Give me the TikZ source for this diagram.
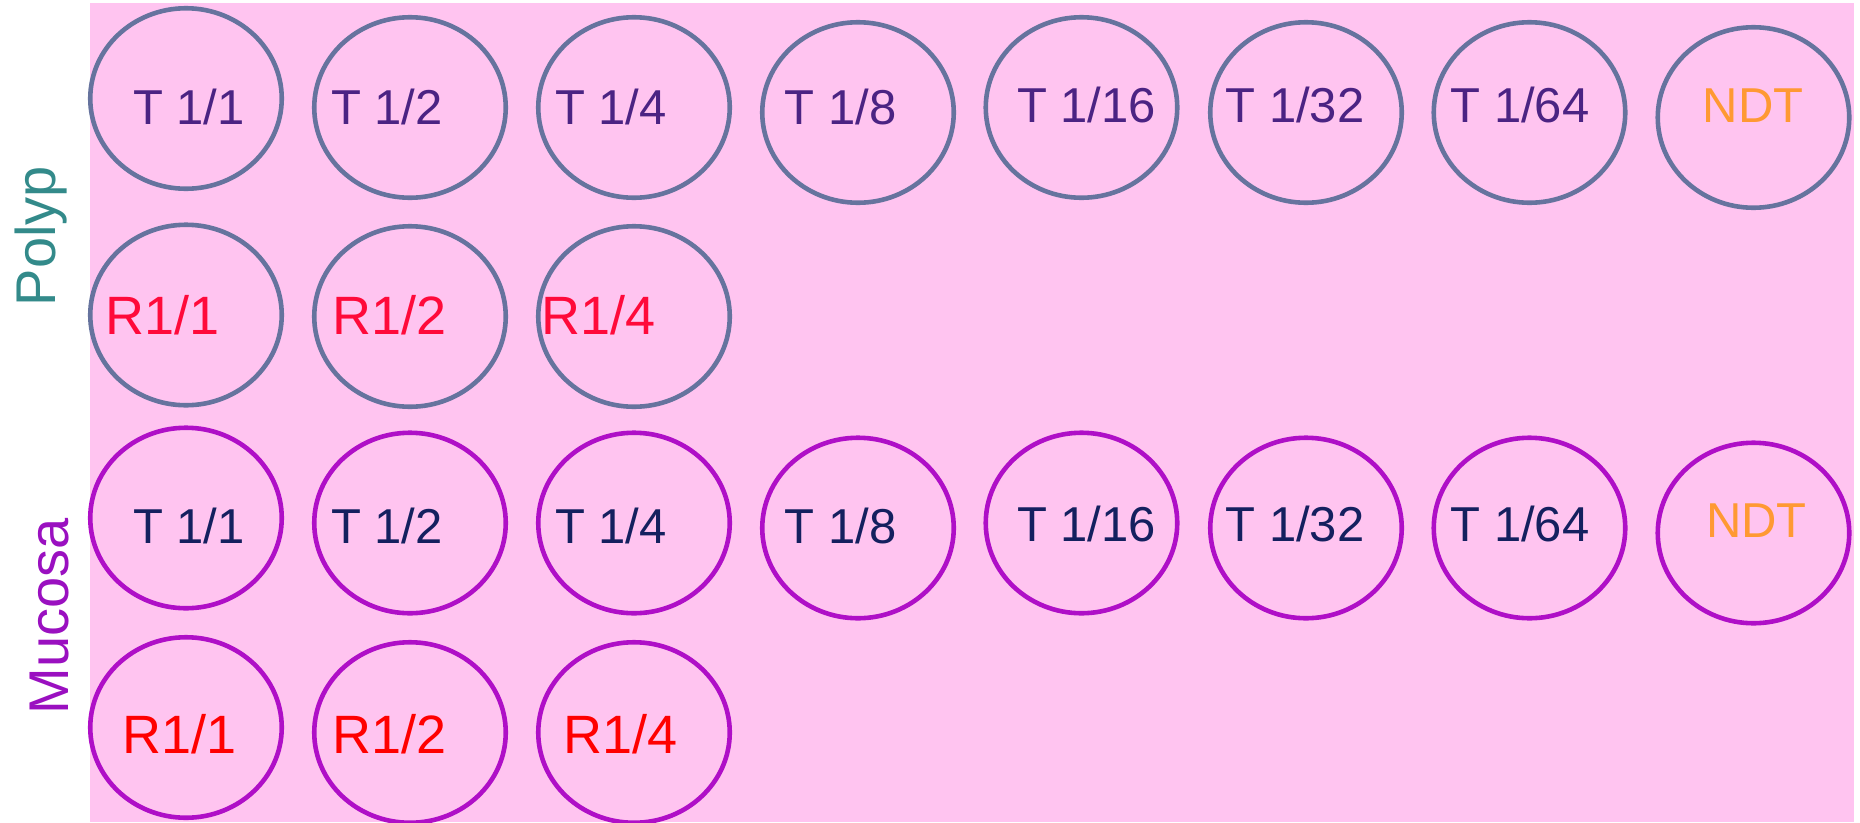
\documentclass[tikz,border=0pt]{standalone}
\usepackage{fontspec}
\setmainfont{Liberation Sans}
\usetikzlibrary{shapes.geometric}
\definecolor{bgpink}{HTML}{FFC4F0}
\definecolor{pstroke}{HTML}{66739E}
\definecolor{mstroke}{HTML}{AF0FC7}
\definecolor{ptext}{HTML}{4B2383}
\definecolor{mtext}{HTML}{14205F}
\definecolor{pred}{HTML}{FF0A3A}
\definecolor{mred}{HTML}{FF0000}
\definecolor{ndt}{HTML}{FF9933}
\definecolor{plabel}{HTML}{338A8A}
\definecolor{mlabel}{HTML}{9A10C0}
\tikzset{
  well/.style={ellipse, minimum width=191.5pt, minimum height=180.5pt, inner sep=0pt, line width=4.6pt},
  pwell/.style={well, draw=pstroke},
  mwell/.style={well, draw=mstroke},
  lbl/.style={anchor=base, inner sep=0pt, font=\fontsize{49}{58}\selectfont},
  rlbl/.style={anchor=base, inner sep=0pt, font=\fontsize{54}{64}\selectfont},
  ptl/.style={lbl, text=ptext},
  mtl/.style={lbl, text=mtext},
  prl/.style={rlbl, text=pred},
  mrl/.style={rlbl, text=mred},
  ndtl/.style={lbl, text=ndt},
  side/.style={anchor=base, inner sep=0pt, rotate=90, font=\fontsize{56}{66}\selectfont}
}
\begin{document}
\begin{tikzpicture}[x=1pt,y=-1pt]
\useasboundingbox (0,0) rectangle (1860,822);
\fill[bgpink] (90,3) rectangle (1854,822);
% Polyp T row
\node[pwell] (pT1) at (186,98.5) {};
\node[pwell] (pT2) at (410,107.5) {};
\node[pwell] (pT3) at (634,107.5) {};
\node[pwell] (pT4) at (858,112.5) {};
\node[pwell] (pT5) at (1081.5,107.5) {};
\node[pwell] (pT6) at (1306,112.5) {};
\node[pwell] (pT7) at (1529.5,112.5) {};
\node[pwell] (pT8) at (1753.5,117.5) {};
\node[ptl] (pT1t) at (189,124) {T 1/1};
\node[ptl] (pT2t) at (387,124) {T 1/2};
\node[ptl] (pT3t) at (611,124) {T 1/4};
\node[ptl] (pT4t) at (840.5,124) {T 1/8};
\node[ptl] (pT5t) at (1086.5,122) {T 1/16};
\node[ptl] (pT6t) at (1295,122) {T 1/32};
\node[ptl] (pT7t) at (1520,122) {T 1/64};
\node[ndtl] (pT8t) at (1753,122) {NDT};
% Polyp R row
\node[pwell] (pR1) at (186,315) {};
\node[pwell] (pR2) at (410,316.5) {};
\node[pwell] (pR3) at (634,316.5) {};
\node[prl] (pR1t) at (163,334) {R1/1};
\node[prl] (pR2t) at (390,334) {R1/2};
\node[prl] (pR3t) at (598.5,334) {R1/4};
% Mucosa T row
\node[mwell] (mT1) at (186,518) {};
\node[mwell] (mT2) at (410,523) {};
\node[mwell] (mT3) at (634,523) {};
\node[mwell] (mT4) at (858,528) {};
\node[mwell] (mT5) at (1081.5,523) {};
\node[mwell] (mT6) at (1306,528) {};
\node[mwell] (mT7) at (1529.5,528) {};
\node[mwell] (mT8) at (1753.5,533) {};
\node[mtl] (mT1t) at (189,543) {T 1/1};
\node[mtl] (mT2t) at (387,543) {T 1/2};
\node[mtl] (mT3t) at (611,543) {T 1/4};
\node[mtl] (mT4t) at (840.5,543) {T 1/8};
\node[mtl] (mT5t) at (1086.5,541) {T 1/16};
\node[mtl] (mT6t) at (1295,541) {T 1/32};
\node[mtl] (mT7t) at (1520,541) {T 1/64};
\node[ndtl] (mT8t) at (1756.5,537) {NDT};
% Mucosa R row
\node[mwell] (mR1) at (186,727.5) {};
\node[mwell] (mR2) at (410,732.5) {};
\node[mwell] (mR3) at (634,732.5) {};
\node[mrl] (mR1t) at (180,753) {R1/1};
\node[mrl] (mR2t) at (390,753) {R1/2};
\node[mrl] (mR3t) at (621,753) {R1/4};
% side labels
\node[side, text=plabel] (polyp) at (55.5,236) {Polyp};
\node[side, text=mlabel] (mucosa) at (68,616) {Mucosa};
\end{tikzpicture}
\end{document}
